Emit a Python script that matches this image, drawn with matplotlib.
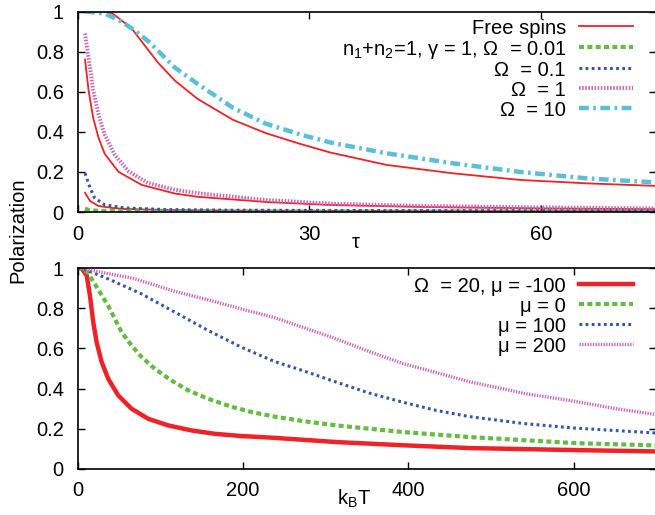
import matplotlib
matplotlib.use("Agg")
import matplotlib.pyplot as plt
from matplotlib.lines import Line2D

plt.rcParams["font.family"] = ["Liberation Sans", "DejaVu Sans"]
plt.rcParams["font.size"] = 14.5
plt.rcParams["mathtext.fontset"] = "custom"
plt.rcParams["mathtext.rm"] = "Liberation Sans"
plt.rcParams["mathtext.it"] = "Liberation Sans:italic"

# ---- top panel: polarization vs tau ----
tau_free_a = [1, 3.5, 4.5, 5.3, 7.0, 8.7, 10.4, 12.6, 15.5, 20.1, 24.4, 28.8, 32.7, 40, 48.6, 57.3, 65.9, 75]
pol_free_a = [1.0, 1.0, 0.99, 0.967, 0.915, 0.83, 0.745, 0.655, 0.565, 0.46, 0.393, 0.34, 0.297, 0.235, 0.193, 0.16, 0.143, 0.13]
tau_free_b = [0.95, 1.4, 2.0, 2.7, 3.5, 5.3, 8.3, 12.6, 15.5, 24.4, 32.7, 45, 60, 75]
pol_free_b = [0.76, 0.61, 0.47, 0.37, 0.29, 0.2, 0.135, 0.092, 0.076, 0.05, 0.035, 0.025, 0.018, 0.014]
tau_free_c = [0.95, 1.6, 2.7, 4.5, 6.1, 12, 20, 40, 75]
pol_free_c = [0.096, 0.055, 0.03, 0.02, 0.015, 0.01, 0.007, 0.005, 0.004]

tau_om001 = [0.95, 1.5, 2.5, 5, 10, 30, 75]
pol_om001 = [0.016, 0.009, 0.006, 0.004, 0.003, 0.002, 0.002]
tau_om01 = [0.95, 1.6, 2.2, 3.5, 6.1, 11.5, 20, 40, 75]
pol_om01 = [0.194, 0.12, 0.07, 0.036, 0.02, 0.012, 0.009, 0.007, 0.006]
tau_om1 = [0.95, 1.4, 2.0, 2.7, 3.5, 4.8, 6.6, 9.1, 12.6, 15.5, 24.4, 32.7, 45, 60, 75]
pol_om1 = [0.89, 0.77, 0.61, 0.485, 0.385, 0.285, 0.203, 0.145, 0.111, 0.094, 0.06, 0.042, 0.03, 0.023, 0.018]
tau_om10 = [0.95, 3.5, 5.7, 7.4, 9.2, 10.9, 12.6, 15.5, 20.1, 24.4, 28.8, 32.7, 40, 48.6, 57.3, 65.9, 75]
pol_om10 = [1.0, 0.99, 0.95, 0.905, 0.85, 0.785, 0.72, 0.64, 0.52, 0.44, 0.387, 0.347, 0.293, 0.243, 0.2, 0.168, 0.147]

# ---- bottom panel: polarization vs k_B T ----
kt_mu_m100 = [0, 4.8, 10.9, 14.8, 18.8, 22.9, 29, 37, 49, 65.2, 85.3, 109.4, 137.6, 165.8, 198, 238, 312.7, 393, 473.6, 600, 700]
pol_mu_m100 = [1.0, 1.0, 0.964, 0.864, 0.731, 0.631, 0.532, 0.448, 0.366, 0.299, 0.249, 0.216, 0.191, 0.174, 0.163, 0.154, 0.133, 0.117, 0.103, 0.093, 0.086]
kt_mu_0 = [0, 6.8, 12.8, 20.9, 26.9, 37, 45, 53.1, 65.2, 77.3, 93.3, 113.5, 133.6, 157.7, 185.9, 210, 238, 275, 312.7, 393, 473.6, 600, 700]
pol_mu_0 = [1.0, 1.0, 0.975, 0.92, 0.88, 0.812, 0.747, 0.681, 0.615, 0.557, 0.498, 0.44, 0.391, 0.349, 0.309, 0.283, 0.26, 0.236, 0.216, 0.183, 0.158, 0.128, 0.116]
kt_mu_100 = [0, 5, 37, 77.3, 117.5, 157.7, 198, 238, 272, 312.7, 352.9, 393, 433.4, 473.6, 540, 600, 700]
pol_mu_100 = [1.0, 1.0, 0.947, 0.872, 0.781, 0.69, 0.606, 0.535, 0.49, 0.432, 0.377, 0.332, 0.291, 0.26, 0.225, 0.203, 0.178]
kt_mu_200 = [0, 10, 66.8, 117.5, 160, 200, 238, 272, 312.7, 352.9, 393, 433.4, 473.6, 542, 600, 650, 700]
pol_mu_200 = [1.0, 0.995, 0.95, 0.885, 0.84, 0.795, 0.754, 0.706, 0.648, 0.584, 0.525, 0.48, 0.434, 0.374, 0.337, 0.3, 0.27]

labels_top = ["Free spins",
              r"n$_1$+n$_2$=1, γ = 1, Ω  = 0.01",
              "Ω  = 0.1", "Ω  = 1", "Ω  = 10"]
labels_bot = ["Ω  = 20, μ = -100", "μ = 0", "μ = 100", "μ = 200"]

RED = "#ee2227"
GREEN = "#66bb44"
BLUE = "#3355aa"
PINK = "#cc66bb"
CYAN = "#5bbfd6"

W, H = 655, 515
fig = plt.figure(figsize=(W / 100, H / 100), dpi=100)


def frac(left, top, right, bottom):
    return [left / W, 1 - bottom / H, (right - left) / W, (bottom - top) / H]


ax1 = fig.add_axes(frac(77.7, 11.5, 656.5, 212))
ax2 = fig.add_axes(frac(77.7, 268.3, 656.5, 468.7))

s_free = dict(color=RED, lw=1.3)
s_g = dict(color=GREEN, lw=3, dashes=(1.2, 0.8))
s_b = dict(color=BLUE, lw=2.2, dashes=(0.9, 1.1))
s_p = dict(color=PINK, lw=2.8, dashes=(0.4, 0.4))
s_c = dict(color=CYAN, lw=3.2, dashes=(2.2, 1.0, 0.6, 1.0))
s_red_thick = dict(color=RED, lw=3.2)
s_p_thin = dict(color=PINK, lw=2.4, dashes=(0.4, 0.4))

ax1.plot(tau_free_a, pol_free_a, **s_free)
ax1.plot(tau_free_b, pol_free_b, **s_free)
ax1.plot(tau_free_c, pol_free_c, **s_free)
ax1.plot(tau_om001, pol_om001, **s_g)
ax1.plot(tau_om01, pol_om01, **s_b)
ax1.plot(tau_om1, pol_om1, **s_p)
ax1.plot(tau_om10, pol_om10, **s_c)

ax2.plot(kt_mu_m100, pol_mu_m100, **s_red_thick)
ax2.plot(kt_mu_0, pol_mu_0, **s_g)
ax2.plot(kt_mu_100, pol_mu_100, **s_b)
ax2.plot(kt_mu_200, pol_mu_200, **s_p_thin)

ax1.set_xlim(0, 75)
ax1.set_xticks([0, 30, 60])
ax2.set_xlim(0, 700)
ax2.set_xticks([0, 200, 400, 600])

for ax in (ax1, ax2):
    ax.set_ylim(0, 1)
    ax.set_yticks([0, 0.2, 0.4, 0.6, 0.8, 1])
    ax.set_yticklabels(["0", "0.2", "0.4", "0.6", "0.8", "1"])
    ax.tick_params(direction="in", top=True, right=True, length=5, width=1)
    ax.tick_params(axis="x", pad=9)
    ax.tick_params(axis="y", pad=10)
    for sp in ax.spines.values():
        sp.set_linewidth(1.2)


def px(x, y):
    return x / W, 1 - y / H


fig.text(*px(356, 248), "τ", ha="center", va="baseline")
fig.text(*px(354, 505), r"k$_\mathrm{B}$T", ha="center", va="baseline")
fig.text(*px(18, 230), "Polarization", rotation=90, ha="center", va="center")


# gnuplot style key: right aligned text, sample line to its right
def key(rows, labels, styles):
    for y, lab, st in zip(rows, labels, styles):
        fig.text(*px(566, y), lab, ha="right", va="center_baseline")
        x0, yy = px(579, y)
        x1, _ = px(633, y)
        fig.add_artist(Line2D([x0, x1], [yy, yy], transform=fig.transFigure, **st))


key([26, 47, 68, 88, 108], labels_top, [s_free, s_g, s_b, s_p, s_c])
key([284, 304, 324, 344], labels_bot, [s_red_thick, s_g, s_b, s_p_thin])

fig.savefig("out.png", dpi=100)
